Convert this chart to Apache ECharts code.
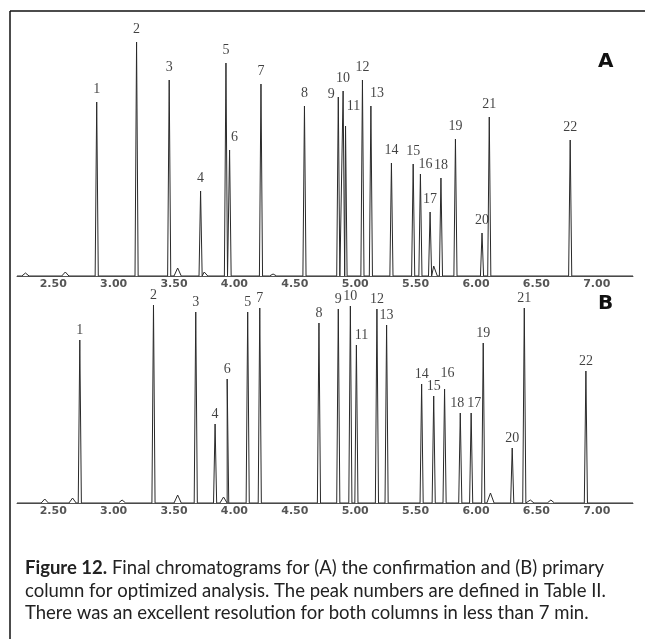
<!DOCTYPE html>
<html>
<head>
<meta charset="utf-8">
<script src="https://cdn.jsdelivr.net/npm/echarts@6/dist/echarts.min.js"></script>
<style>
  html, body { margin: 0; padding: 0; background: #fff; }
  #chart { width: 645px; height: 639px; }
</style>
</head>
<body>
<div id="chart"></div>
<script>
// peak numbers, retention times (min) and heights
var peakNumbers = ['1', '2', '3', '4', '5', '6', '7', '8', '9', '10', '11',
    '12', '13', '14', '15', '16', '17', '18', '19', '20', '21', '22'];

var timesA = [2.86, 3.19, 3.46, 3.72, 3.93, 3.96, 4.22, 4.58, 4.86, 4.90, 4.92,
    5.06, 5.13, 5.30, 5.48, 5.54, 5.62, 5.71, 5.83, 6.05, 6.11, 6.78];
var heightsA = [174, 234, 196, 85, 213, 126, 192, 170, 179, 185, 150,
    196, 170, 113, 112, 102, 64, 98, 137, 43, 159, 136];

var timesB = [2.72, 3.33, 3.68, 3.84, 4.11, 3.94, 4.21, 4.70, 4.86, 4.96, 5.01,
    5.18, 5.26, 5.55, 5.65, 5.74, 5.96, 5.87, 6.06, 6.30, 6.40, 6.91];
var heightsB = [163, 198, 191, 79, 191, 124, 195, 180, 194, 197, 158,
    194, 178, 119, 107, 114, 90, 90, 160, 55, 195, 132];

// small unlabelled bumps on the baseline
var minorTimesA = [2.27, 2.60, 3.53, 3.75, 4.32, 5.65];
var minorHeightsA = [3, 4, 8, 4, 2, 10];
var minorTimesB = [2.43, 2.66, 3.07, 3.53, 3.91, 6.12, 6.45, 6.62];
var minorHeightsB = [4, 5, 3, 8, 6, 10, 3, 3];

var tickLabels = ['2.50', '3.00', '3.50', '4.00', '4.50', '5.00', '5.50', '6.00', '6.50', '7.00'];

var captionLines = [
    'Final chromatograms for (A) the confirmation and (B) primary',
    'column for optimized analysis. The peak numbers are defined in Table II.',
    'There was an excellent resolution for both columns in less than 7 min.'
];

var T_MIN = 2.2, T_MAX = 7.3;

function buildTrace(times, heights, minorTimes, minorHeights) {
    var peaks = [];
    for (var i = 0; i < times.length; i++) peaks.push([times[i], heights[i], 0.013]);
    for (var j = 0; j < minorTimes.length; j++) peaks.push([minorTimes[j], minorHeights[j], 0.03]);
    peaks.sort(function (a, b) { return a[0] - b[0]; });
    var pts = [[T_MIN, 0]];
    peaks.forEach(function (p) {
        pts.push([p[0] - p[2], 0]);
        pts.push([p[0], p[1]]);
        pts.push([p[0] + p[2], 0]);
    });
    pts.push([T_MAX, 0]);
    return pts;
}

function buildLabels(times, heights, shifts) {
    return times.map(function (t, i) {
        var name = peakNumbers[i];
        var item = { value: [t, heights[i]], name: name };
        if (shifts[name]) item.label = { offset: shifts[name] };
        return item;
    });
}

function makeXAxis(gridIndex) {
    return {
        type: 'value',
        gridIndex: gridIndex,
        min: T_MIN,
        max: T_MAX,
        axisLine: { lineStyle: { color: '#555', width: 1 } },
        axisTick: { show: false },
        splitLine: { show: false },
        axisLabel: {
            customValues: tickLabels.map(Number),
            formatter: function (v) { return v.toFixed(2); },
            margin: 3,
            color: '#555',
            fontFamily: 'DejaVu Sans',
            fontWeight: 'bold',
            fontSize: 11
        }
    };
}

function makeYAxis(gridIndex) {
    return { type: 'value', gridIndex: gridIndex, min: 0, max: 250, show: false };
}

function traceSeries(idx, data) {
    return {
        type: 'line', xAxisIndex: idx, yAxisIndex: idx,
        data: data, showSymbol: false, silent: true,
        lineStyle: { color: '#2a2a2a', width: 1 }
    };
}

function labelSeries(idx, data, distance) {
    return {
        type: 'scatter', xAxisIndex: idx, yAxisIndex: idx,
        data: data, symbolSize: 0, silent: true, z: 5,
        label: {
            show: true, position: 'top', distance: distance,
            formatter: '{b}', color: '#111',
            fontFamily: 'Liberation Serif', fontSize: 14
        }
    };
}

function makeOption() {
    var shiftsA = { '6': [5, 0], '9': [-7, 10], '11': [8, -7], '13': [6, 0], '16': [5, 3] };
    var shiftsB = { '11': [5, 0], '16': [3, -6], '18': [-3, 0], '17': [3, 0] };
    return {
        animation: false,
        grid: [
            { left: 17, right: 12, top: 26, bottom: 363 },
            { left: 17, right: 12, top: 253, bottom: 136 }
        ],
        xAxis: [makeXAxis(0), makeXAxis(1)],
        yAxis: [makeYAxis(0), makeYAxis(1)],
        title: {
            left: 20, top: 552,
            text: '{b|Figure 12.} ' + captionLines.join('\n'),
            textStyle: {
                fontFamily: 'Lato', fontSize: 18.5, fontWeight: 'normal',
                color: '#222', lineHeight: 22.5,
                rich: { b: { fontFamily: 'Lato', fontSize: 18.5, fontWeight: 'bold', color: '#222' } }
            }
        },
        graphic: [
            { type: 'line', shape: { x1: 10, y1: 11, x2: 645, y2: 11 }, style: { stroke: '#111', lineWidth: 1.5 } },
            { type: 'line', shape: { x1: 10, y1: 11, x2: 10, y2: 639 }, style: { stroke: '#111', lineWidth: 1.5 } },
            { type: 'text', x: 598, y: 52, style: { text: 'A', font: 'bold 20px "DejaVu Sans"', fill: '#111' } },
            { type: 'text', x: 598, y: 294, style: { text: 'B', font: 'bold 20px "DejaVu Sans"', fill: '#111' } }
        ],
        series: [
            traceSeries(0, buildTrace(timesA, heightsA, minorTimesA, minorHeightsA)),
            traceSeries(1, buildTrace(timesB, heightsB, minorTimesB, minorHeightsB)),
            labelSeries(0, buildLabels(timesA, heightsA, shiftsA), 6),
            labelSeries(1, buildLabels(timesB, heightsB, shiftsB), 3)
        ]
    };
}

var myChart = echarts.init(document.getElementById('chart'));
myChart.setOption(makeOption());
</script>
</body>
</html>
